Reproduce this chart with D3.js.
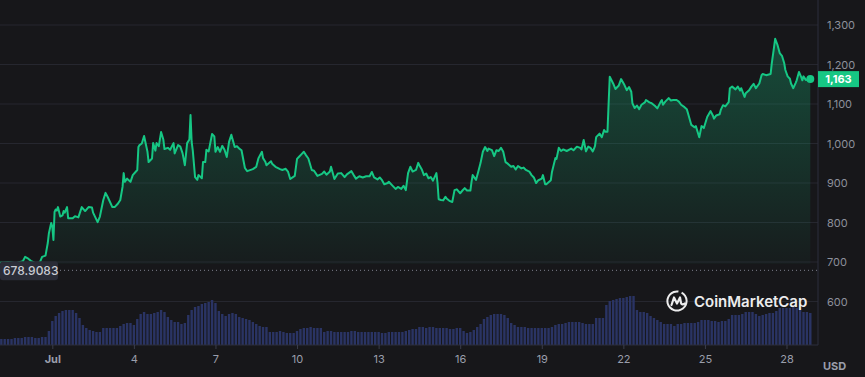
<!DOCTYPE html>
<html>
<head>
<meta charset="UTF-8">
<title>Price chart</title>
<script src="https://cdn.jsdelivr.net/npm/d3@7"></script>
<style>
body { margin:0; background:#17171a; }
text { font-family: Inter, "Noto Sans", sans-serif; }
</style>
</head>
<body>
<script>
// hours since Jun 29 00:00 and the price read at that time
var priceHours = [2,9,16,22,24,26,29,33,37,39,42,44,45,47,48,49,50,51,52,53,55,57,58,59,61,62,66,68,71,74,77,80,83,84,88,90,93,95,97,101,103,106,108,110,111,112,114,117,119,123,124,125,127,129,132,133,136,137,139,140,142,144,146,147,150,152,155,156,159,161,163,165,167,169,170,171,172,174,176,177,180,181,183,184,186,189,191,192,194,196,198,200,202,204,206,209,211,213,215,218,220,225,228,230,233,234,236,237,241,242,245,249,251,254,256,258,262,264,266,268,270,272,274,277,279,282,286,288,290,293,294,297,300,303,306,308,312,314,316,319,322,325,328,330,332,335,337,339,341,344,345,348,351,353,356,358,360,362,364,366,369,371,372,374,376,378,380,382,384,387,388,389,391,393,395,396,399,401,403,405,408,410,412,414,417,418,419,422,424,426,428,430,432,433,436,438,440,442,444,446,448,450,453,455,457,459,462,464,466,469,471,473,475,477,480,481,483,484,488,489,492,493,495,497,499,502,506,508,511,514,515,517,519,521,523,525,526,527,528,531,533,535,536,538,539,540,543,545,548,550,553,555,557,559,560,562,564,566,568,571,572,575,577,580,582,585,586,587,589,592,594,596,599,601,603,606,608,610,612,615,616,619,621,623,624,626,629,631,632,634,637,638,640,642,645,646,648,651,653,655,656,659,660,663,665,667,669,672,674,675,678,682,683,685,686,688,690,692,694,695,697,699,700,702,704,705,707,709,710,711,713,717];
var priceValues = [698,700,697,702,713,710,703,697,699,713,716,748,773,799,790,756,827,833,830,839,815,818,829,825,839,811,811,816,813,839,829,839,838,825,801,815,857,875,864,839,839,848,857,890,925,903,911,903,920,933,991,996,1000,1019,979,953,962,1001,982,1001,993,1029,1010,986,989,984,1001,975,996,992,975,945,1001,1010,1072,1004,982,915,908,920,912,953,953,984,980,1024,1018,979,991,979,994,984,966,1004,1022,991,993,987,983,938,930,935,941,963,979,963,954,945,955,949,941,935,933,936,929,910,918,961,967,973,979,970,962,933,931,918,923,929,921,929,941,910,924,925,915,922,930,920,911,917,914,917,917,928,914,909,914,907,897,900,903,894,885,890,885,893,882,925,941,929,933,951,945,935,920,924,912,915,906,925,900,859,857,856,865,861,854,852,882,884,874,881,887,881,881,903,920,908,929,951,979,991,981,987,983,968,983,981,989,979,953,949,941,943,934,943,937,939,933,929,920,914,900,907,911,920,897,897,907,928,963,961,989,981,985,981,987,983,992,989,985,1009,980,992,989,980,986,994,1016,1025,1016,1034,1030,1030,1102,1169,1152,1138,1147,1163,1148,1135,1143,1131,1102,1090,1096,1087,1098,1104,1110,1104,1102,1095,1089,1106,1110,1098,1106,1115,1109,1110,1110,1106,1098,1092,1087,1067,1047,1041,1044,1016,1044,1039,1048,1067,1082,1071,1063,1071,1074,1085,1097,1094,1105,1140,1144,1137,1144,1134,1140,1118,1127,1135,1144,1151,1140,1152,1173,1176,1173,1176,1203,1244,1265,1250,1229,1222,1203,1186,1170,1164,1152,1140,1153,1160,1181,1168,1160,1170,1161,1163];

// one volume bar every 3 hours from Jun 29 00:00 (relative units)
var volumeStep = 3;
var volumeValues = [6,6,6,6,6,7,7,7,8,8, 8,7,7,8,8,14,24,29,32,34, 35,35,35,32,27,20,17,15,14,13, 13,17,17,17,17,17,19,21,22,22,
  20,26,31,33,31,31,32,33,35,33, 28,25,23,23,21,22,30,35,38,39, 41,42,43,45,42,34,31,29,31,32, 31,28,27,26,25,23,21,19,18,18,
  13,13,13,14,13,12,12,12,14,16, 17,17,18,17,17,17,13,14,14,13, 13,13,13,13,14,14,13,13,13,13, 13,13,13,12,12,13,13,13,13,13,
  14,15,16,16,18,18,17,18,18,17, 17,17,17,16,16,17,17,14,12,13, 15,18,21,26,28,30,31,31,31,30, 27,22,20,18,18,18,17,17,17,17,
  17,17,17,18,20,21,21,22,23,23, 23,23,22,21,21,21,27,27,27,40, 44,45,46,47,47,48,49,49,35,33, 33,32,29,27,25,23,21,21,21,19,
  21,21,22,22,22,22,23,25,25,25, 24,24,23,24,24,26,30,30,30,31, 33,33,33,31,29,30,31,32,32,34, 37,37,37,37,38,37,35,33,33,32];

var yTicks = [600,700,800,900,1000,1100,1200,1300];
var xTickDays = [1,4,7,10,13,16,19,22,25,28];
var xTickLabels = ["Jul","4","7","10","13","16","19","22","25","28"];
var openPrice = 678.9083;
var lastPrice = 1163;
var green = "#16c784";

var W = 865, H = 377, right = 818, bottom = 345;
var start = new Date(2024, 5, 29);
function atHour(h) { return new Date(start.getTime() + h * 3600000) }

var svg = d3.select("body").append("svg")
  .attr("width", W).attr("height", H)
  .style("background", "#17171a");

var x = d3.scaleTime().domain([atHour(1.84), atHour(723.8)]).range([0, right]);
var y = d3.scaleLinear().domain([700, 1300]).range([262, 25]);
var v = d3.scaleLinear().domain([0, 50]).range([bottom, bottom - 50]);

var defs = svg.append("defs");
var grad = defs.append("linearGradient").attr("id", "fill")
  .attr("gradientUnits", "userSpaceOnUse")
  .attr("x1", 0).attr("y1", 25).attr("x2", 0).attr("y2", 264);
grad.append("stop").attr("offset", 0).attr("stop-color", green).attr("stop-opacity", 0.32);
grad.append("stop").attr("offset", 1).attr("stop-color", green).attr("stop-opacity", 0.03);
defs.append("clipPath").attr("id", "plot")
  .append("rect").attr("x", 0).attr("y", 0).attr("width", right).attr("height", bottom);

// grid
svg.append("g").selectAll("line").data(yTicks).enter().append("line")
  .attr("x1", 0).attr("x2", right)
  .attr("y1", function(d) { return y(d) }).attr("y2", function(d) { return y(d) })
  .attr("stroke", "#26272f").attr("stroke-width", 1);

var plot = svg.append("g").attr("clip-path", "url(#plot)");

// volume
plot.selectAll("rect.vol").data(volumeValues).enter().append("rect")
  .attr("class", "vol")
  .attr("x", function(d, i) { return x(atHour(i * volumeStep)) - 1.2 })
  .attr("width", 2.4)
  .attr("y", function(d) { return v(d) })
  .attr("height", function(d) { return bottom - v(d) })
  .attr("fill", "#2a3464");

var pts = priceHours.map(function(h, i) { return { t: atHour(h), p: priceValues[i] } });

var area = d3.area()
  .x(function(d) { return x(d.t) })
  .y0(y(695))
  .y1(function(d) { return y(d.p) });
plot.append("path").datum(pts).attr("d", area).attr("fill", "url(#fill)");

var line = d3.line()
  .x(function(d) { return x(d.t) })
  .y(function(d) { return y(d.p) });
plot.append("path").datum(pts).attr("d", line)
  .attr("fill", "none").attr("stroke", green).attr("stroke-width", 2)
  .attr("stroke-linejoin", "round");

var last = pts[pts.length - 1];
svg.append("circle").attr("cx", x(last.t)).attr("cy", y(last.p)).attr("r", 4).attr("fill", green);

// open price reference
svg.append("line")
  .attr("x1", 60).attr("x2", right)
  .attr("y1", y(openPrice)).attr("y2", y(openPrice))
  .attr("stroke", "#7d808c").attr("stroke-width", 1).attr("stroke-dasharray", "1,3");
svg.append("rect").attr("x", 0).attr("y", y(openPrice) - 9).attr("width", 58).attr("height", 19)
  .attr("rx", 3).attr("fill", "#2a2c37");
svg.append("text").attr("x", 3).attr("y", y(openPrice) + 4.5)
  .attr("font-size", 12).attr("font-weight", 500).attr("fill", "#c9cbd3")
  .text(openPrice);

// borders
svg.append("line").attr("x1", right).attr("x2", right).attr("y1", 0).attr("y2", bottom)
  .attr("stroke", "#2c2f3c");
svg.append("line").attr("x1", 0).attr("x2", right).attr("y1", bottom).attr("y2", bottom)
  .attr("stroke", "#2c2f3c");

// y axis
var yAxis = svg.append("g").attr("transform", "translate(" + (right + 4) + ",0)")
  .call(d3.axisRight(y).tickValues(yTicks).tickFormat(d3.format(",")).tickSize(0).tickPadding(5));
yAxis.select(".domain").remove();
yAxis.selectAll("text").attr("fill", "#8d909b").attr("font-size", 11)
  .style("font-family", "Inter, sans-serif");

// x axis
var xAxis = svg.append("g").attr("transform", "translate(0," + bottom + ")")
  .call(d3.axisBottom(x)
    .tickValues(xTickDays.map(function(d) { return new Date(2024, 6, d) }))
    .tickFormat(function(d, i) { return xTickLabels[i] })
    .tickSize(4).tickPadding(6));
xAxis.select(".domain").remove();
xAxis.selectAll("line").attr("stroke", "#3a3d4b");
xAxis.selectAll("text").attr("fill", "#9a9eab").attr("font-size", 11)
  .style("font-family", "Inter, sans-serif")
  .attr("font-weight", function(d, i) { return i == 0 ? 700 : 400 });

svg.append("text").attr("x", 823).attr("y", 370)
  .attr("font-size", 11).attr("font-weight", 700).attr("fill", "#9a9eab").text("USD");

// last price tag
svg.append("rect").attr("x", right).attr("y", y(lastPrice) - 8).attr("width", 41).attr("height", 16)
  .attr("fill", green);
svg.append("text").attr("x", right + 20.5).attr("y", y(lastPrice) + 4)
  .attr("text-anchor", "middle").attr("font-size", 11).attr("font-weight", 700)
  .attr("fill", "#ffffff").text(d3.format(",")(lastPrice));

// watermark
var logo = svg.append("g").attr("transform", "translate(677,301)").attr("opacity", 0.92);
logo.append("path")
  .attr("d", d3.arc()({ innerRadius: 8.6, outerRadius: 10.6, startAngle: 0.5, endAngle: 2 * Math.PI + 0.15 }))
  .attr("fill", "#ffffff");
logo.append("path")
  .attr("d", "M-5.5,4 L-3,-3.5 L0,2.5 L3,-3.5 L4,2 Q5,4.5 8,2.5")
  .attr("fill", "none").attr("stroke", "#ffffff").attr("stroke-width", 2.2)
  .attr("stroke-linejoin", "round").attr("stroke-linecap", "round");
svg.append("text").attr("x", 694).attr("y", 307)
  .attr("font-size", 15).attr("font-weight", 600).attr("fill", "#ffffff").attr("opacity", 0.92)
  .text("CoinMarketCap");
</script>
</body>
</html>
